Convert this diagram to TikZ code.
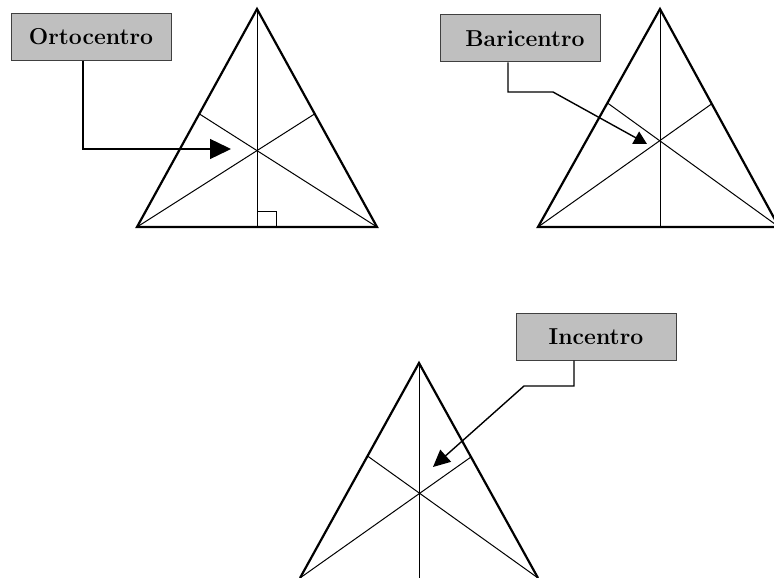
\documentclass[tikz,border=0pt]{standalone}
\usepackage{fontspec}
\usetikzlibrary{arrows.meta}
\begin{document}
\begin{tikzpicture}[x=1pt,y=-1pt,
  tri/.style={line width=2.2pt, line join=miter},
  cev/.style={line width=1pt},
  conn/.style={line width=1.4pt},
  namebox/.style={draw=black!75, line width=1pt, fill=black!25,
    minimum width=160pt, minimum height=47pt, inner sep=0pt,
    font=\fontsize{23}{27}\selectfont\bfseries}]
\useasboundingbox (0,0) rectangle (774,578);
\clip (0,0) rectangle (774,578);

% ---- Triangle 1: Ortocentro
\coordinate (A1) at (257,9);
\coordinate (B1) at (137,227);
\coordinate (C1) at (377,227);
\coordinate (H1) at (257,227);
\coordinate (L1) at (199.5,114);
\coordinate (R1) at (314.5,114);
\draw[cev] (A1) -- (H1);
\draw[cev] (B1) -- (R1);
\draw[cev] (C1) -- (L1);
\draw[cev] ([yshift=16pt]H1) rectangle ([xshift=19pt]H1);
\draw[tri] (A1) -- (B1) -- (C1) -- cycle;
\node[namebox] (o1) at (91,37) {Ortocentro};
\coordinate (T1) at (231,149);
\draw[conn, -{Triangle[length=21pt,width=20pt]}] ([xshift=-8pt]o1.south) |- (T1);

% ---- Triangle 2: Baricentro
\coordinate (A2) at (660,9);
\coordinate (B2) at (538,227);
\coordinate (C2) at (779,227);
\coordinate (M2) at (660,227);
\coordinate (L2) at (607.5,103);
\coordinate (R2) at (711.5,104);
\draw[cev] (A2) -- (M2);
\draw[cev] (B2) -- (R2);
\draw[cev] (C2) -- (L2);
\draw[tri] (A2) -- (B2) -- (C2) -- cycle;
\node[namebox] (b2) at (520,38.5) {\hspace*{10pt}Baricentro};
\coordinate (K2) at (553,92);
\coordinate (T2) at (647,144);
\draw[conn, -{Triangle[length=13pt,width=14pt]}] ([xshift=-12pt]b2.south) |- (K2) -- (T2);

% ---- Triangle 3: Incentro
\coordinate (A3) at (419,363);
\coordinate (B3) at (300,578);
\coordinate (C3) at (538,578);
\coordinate (M3) at (419,578);
\coordinate (L3) at (367.5,456);
\coordinate (R3) at (471,457);
\draw[cev] (A3) -- (M3);
\draw[cev] (B3) -- (R3);
\draw[cev] (C3) -- (L3);
\draw[tri] (B3) -- (A3) -- (C3);
\node[namebox] (i3) at (596,336.5) {Incentro};
\coordinate (K3) at (524,386);
\coordinate (T3) at (433,467);
\draw[conn, -{Triangle[length=17pt,width=16pt]}] ([xshift=-22pt]i3.south) |- (K3) -- (T3);
\end{tikzpicture}
\end{document}
